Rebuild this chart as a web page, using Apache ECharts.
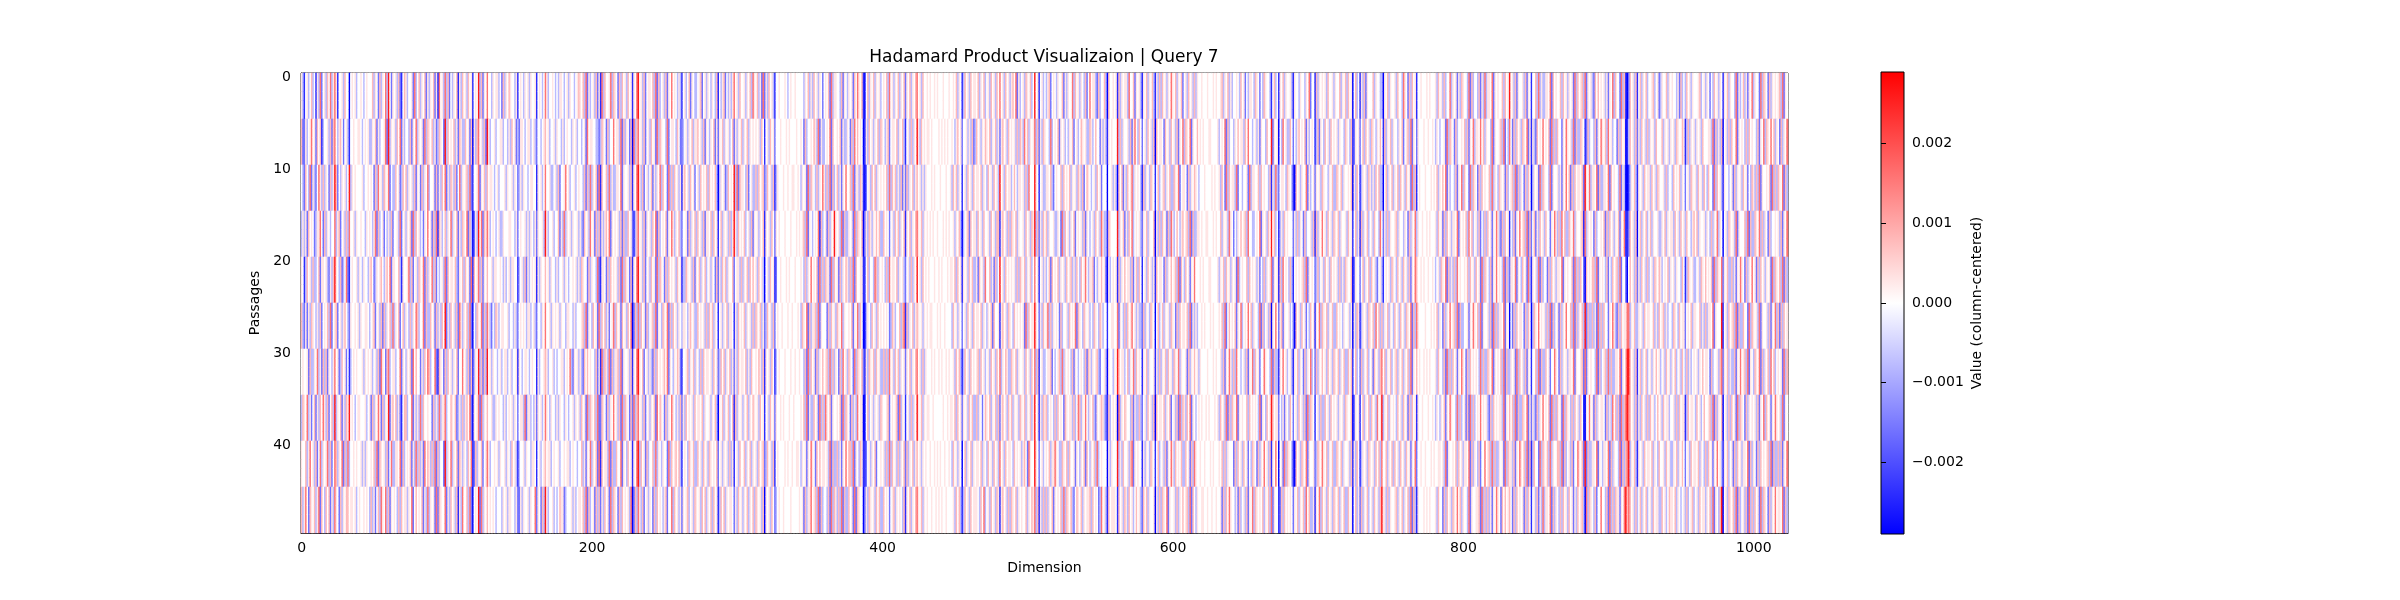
<!DOCTYPE html>
<html>
<head>
<meta charset="utf-8">
<title>Hadamard Product Visualizaion</title>
<script src="https://cdn.jsdelivr.net/npm/echarts@6/dist/echarts.min.js"></script>
</head>
<body style="margin:0">
<div id="box" style="width: 2400px;height: 600px;"></div>
<script>
var chart = echarts.init(document.querySelector('#box'))

// heat levels, digit 0..8 -> value (blue .. white .. red)
var levels = [-0.0029, -0.0024, -0.0016, -0.0008, 0, 0.0003, 0.0008, 0.0016, 0.0026]

// each block = 64 dimensions, each line = a band of 5 passages
var block00 = [
  '53145346 34153724 53647357 51445364 40454534 45434544 46354263 54738425',
  '62253457 45264613 44536267 43564245 31445445 54345453 35462534 45728354',
  '43264372 53247536 35426358 62435453 48354544 44534454 54263745 36547243',
  '35352645 42355742 63543447 35624536 37445354 45443545 43572634 52435362',
  '54136453 63346255 45325368 54362347 21454453 54354435 64235456 43564725',
  '63252536 54353624 54637245 62453564 32544545 35445543 45624536 26354637',
  '45445263 35473526 36254357 45236452 41345454 44535454 53453627 54267345',
  '36547352 46253647 53624638 35462536 58454345 54445345 26354752 63548256',
  '54463574 53624735 45736247 63547263 73445454 45353544 54637265 45362473',
  '63574265 46357264 36462537 54263546 64554534 54454543 63524637 54736254'
]
var block01 = [
  '45362146 53445273 46354625 35462517 45373624 35461536 45364514 54836254',
  '53647253 44362547 35452736 54635236 54283645 46352653 36452605 36745362',
  '36452364 63545362 54263547 34452625 36472536 53624735 45637214 45725463',
  '44537245 35462736 45342547 45263716 53463547 35462536 54726302 53847265',
  '54463154 45736245 36547263 54736243 45372645 54632546 36452716 45736254',
  '35462463 54363547 63447263 36452635 36482536 45362753 54637204 36547263',
  '53447254 35462746 44253647 63447216 54263645 35462447 45362613 54836263',
  '46352146 63447253 53736445 44263537 35573446 54623536 35647205 45727354',
  '35547263 45462537 36352746 53637263 44283547 35462653 54364712 63546245',
  '54363645 53547246 45462537 35452726 54472536 45361537 44637204 54827354'
]
var block02 = [
  '74435455 34263546 54435145 43545354 45145434 75344543 43554345 35443456',
  '85344534 45534435 36452325 54345534 53244345 64534453 54435345 44354534',
  '64554345 34445354 45354235 35443455 44154534 74453345 36244574 53445345',
  '75345434 53354445 54435245 44535354 35254453 85344534 46253735 45354453',
  '64453554 45435345 35544134 53625345 45153544 64535443 53445354 34454535',
  '75324365 34554453 44353245 45435534 53244354 74453545 45354435 54435344',
  '84535443 45345534 53445154 34554345 44153445 65344534 34455345 47325453',
  '64453354 54435345 45354245 53725534 35254534 75435443 53544354 34453545',
  '75344545 35445354 36453134 45354435 54145345 64553454 45344545 53454434',
  '64545434 44354535 54435225 35445354 47254263 85344534 34655234 44535345'
]
var block03 = [
  '54637253 45362517 36445736 54263645 36451547 84536245 54637263 45362547',
  '43452745 54433236 54263447 45537263 54260736 74536245 36452736 54437245',
  '44362637 35462716 44637353 35547254 45361547 85362453 46253547 36442736',
  '53264537 45263625 35647254 54536263 36452136 74536254 53647263 45462547',
  '36544263 54437215 54263645 45362736 54261547 84536245 36452736 54263645',
  '45637254 36452736 46352457 36452645 36470263 73645263 45637254 36547263',
  '53264645 44362517 36537263 55637254 45361547 85462453 53263645 45647254',
  '36452736 54637226 54263547 45362736 54262736 74536245 35462746 54263547',
  '46352547 35462716 45537263 36447254 36451547 83645263 44637354 35442736',
  '54637263 45263625 36452736 54263645 45370263 75362453 54263645 43562447'
]
var block04 = [
  '45435314 53462543 34562453 54354361 43562435 35745364 45354637 54635272',
  '54364223 45354635 56453625 43546252 54635453 46253546 35463545 45453641',
  '36453515 64536452 45364546 36454630 35452364 54837265 54362453 36364562',
  '53546324 45263546 36453625 54636451 46354536 35853645 46345362 54535461',
  '45364513 36545362 54635463 45354262 53646354 46245536 35463646 45364530',
  '64535435 54356453 36454536 36463541 45354635 54153645 46354536 36546352',
  '35465214 45635463 54363645 54536452 36463546 35253645 54635364 45465361',
  '54353625 36454536 45546354 45354630 54635463 46163545 35463546 54536451',
  '45646314 54365463 36453645 36545462 45354536 35145364 46354635 45364562',
  '36453525 45634536 54536463 54636451 36463545 54253645 35463546 36545360'
]
var block05 = [
  '53645314 45444543 45445444 44354635 36453542 45462735 54436254 35452647',
  '45364524 44544454 54444544 54263445 46537253 34547264 45462533 54263746',
  '36453613 54445445 44554454 35452736 54363547 53637263 46352547 44637255',
  '54536425 45444544 45444545 45637254 34547163 45263548 54537263 35452736',
  '45364512 44544454 54445444 54363547 45462736 36552736 45263546 53637264',
  '36453624 54454445 44544454 36547263 55637254 44263645 36547354 45462547',
  '54536413 45444544 45445445 44362736 45263546 45637363 54263745 36542736',
  '45364525 44545444 54454444 54637253 36452736 37546254 45462736 54263537',
  '36453614 54444545 44544554 35452547 54264645 54537263 36352547 46637254',
  '54536423 45445444 45444445 45263557 45637263 44362736 53637263 36452726'
]
var block06 = [
  '54610463 54635453 45463745 35463546 25463546 74536445 45445454 44544454',
  '45401536 45354636 54356245 54635463 14536354 85364545 54544445 45454544',
  '36510245 36463545 45463736 46353625 26354635 64535354 44545444 54445445',
  '54602536 53546463 36454245 36463546 15463546 75463545 45454454 44545454',
  '45511463 44376354 54363745 54635453 24536354 84536454 54445445 45444545',
  '36400354 36453645 45454236 53446367 16354635 65453545 45544454 54454444',
  '54621536 54636453 36363745 36463545 25463546 74536354 44545445 45445454',
  '45500463 45354536 54456245 45627354 14536354 85463545 54454444 44544545',
  '36511245 35462445 45363736 45363546 26354635 64535454 45445454 54454454',
  '54402536 54536463 36454245 63545436 15463546 75463545 44544545 45445444'
]
var block07 = [
  '45463541 36453645 54635463 45364536 47453645 35647253 45365463 48451453',
  '54356452 44535362 36453546 54635463 52564536 45453636 53746354 57362536',
  '36463541 45364536 45546354 36453645 38453645 53464355 45363744 48541453',
  '45354630 34562645 53645364 45364536 61564536 36546354 45364536 58362536',
  '54636451 54536463 35264537 44635263 48453645 45453636 54635463 47451453',
  '36453542 45364536 45546354 35462644 51564536 54364545 45273645 58542536',
  '45364631 36453645 45636453 45364536 47354653 36546354 45364536 47361453',
  '54636452 54536463 36354246 54635463 62564536 46354536 54635463 58451536',
  '36453540 46354635 45546354 36453645 37453645 54364545 35642754 48542453',
  '45364631 36453645 55436473 45364536 51564536 36546354 54463546 57361536'
]
var block08 = [
  '43562454 35446253 54473645 35436247 45532634 46306445 45163545 53744625',
  '54437345 46254534 35462453 46545336 53464425 35315454 44836354 45362574',
  '35546324 54463645 46354536 53624654 34536452 44404453 53064625 36457354',
  '46354453 35427364 53546245 45362543 45364537 53316544 44835462 53647345',
  '53462645 46354536 45635364 36457435 56243546 45205345 45163546 45536246',
  '45736354 54263445 36454726 54365453 43654365 34414455 44725436 36457453',
  '34556243 45637354 54362543 45436265 35456324 45305443 54864553 46354736',
  '56345436 36454265 45536347 63547435 46325456 53216345 45073546 54436253',
  '45463557 54336546 36445254 35462643 54637345 44405354 44835364 45367254',
  '36354625 45463736 54632465 46354556 36454237 45316455 54164536 53645346'
]
var block09 = [
  '45315463 54631536 36453547 54635462 45364536 35445444 54445454 45635463',
  '36424536 45360645 54264536 45362547 36547254 46454544 45544445 34547263',
  '54316354 36541463 45635463 36547245 54263546 54344454 44454544 53642736',
  '45325463 54460536 36452637 53464356 45637263 35545445 54445454 46354537',
  '36414536 45351645 54263546 45637264 36452547 44454544 45544445 35463645',
  '53326354 36540463 46354536 54263645 54637253 53445454 44545444 54637246',
  '45415463 54451536 35463645 36547354 45263546 45354444 54445454 45362547',
  '36324536 45360645 54635462 45362736 53647254 34545445 45444545 36453726',
  '54415354 36541463 45362547 53645463 36452637 54454454 44545444 54636354',
  '45326463 54450536 36547254 45363546 45637264 35445544 54454454 45263647'
]
var block10 = [
  '53445436 45243554 36542436 54431463 41546354 45315443 54435472 44163545',
  '44354645 53647443 45352544 36448254 50437453 36424356 45462534 54136254',
  '45537244 34452735 54463645 44361537 32455436 54310645 35447253 45254536',
  '54243546 45637443 34547254 53648463 41353645 44425363 54263445 36163547',
  '35452734 54463645 45352436 35457254 51637454 36314545 45637254 54236345',
  '45462547 34547463 54437263 45360547 42562544 53420645 36452436 45154736',
  '53637443 45362547 36452447 54437263 31547453 45315463 54263547 34263546',
  '36547254 54463645 45437254 36458645 52435254 36424536 45362736 54145363',
  '44263645 36452436 54263547 45361547 40452736 54310645 36547254 45236547',
  '54435263 45362547 36545463 54637254 41263645 45425463 54637463 35154736'
]
var block11 = [
  '45364453 54463546 36450463 41536254 44635443 30546354 45364437 54263645',
  '36453645 45354436 54361254 52463645 36543546 41635463 54435462 45637254',
  '54435463 36546354 45460536 41354536 53536463 30463546 35463645 36452736',
  '45364536 54635445 36451463 51635463 45364437 42536354 45635443 54263547',
  '36453645 45363536 54460254 42463546 36453245 31454536 54364536 45362547',
  '54635463 36454354 45350536 51354536 54637463 63546354 36453645 36547263',
  '45364536 54635463 36461463 42635463 45264536 74635463 45635463 54637254',
  '36453645 45354536 54460254 51463546 36453745 83546354 54364536 45263645',
  '54635463 36546354 45361536 41354536 54536463 74463546 36453645 36452547',
  '45364536 54635463 36450463 52635463 45364536 85536354 45635463 54637263'
]
var block12 = [
  '14454445 45444536 45363447 35452536 54437263 44362537 35547254 54463645',
  '25444544 54454354 34452736 54263445 46362547 35547463 54437254 45637243',
  '14544454 44545463 54647253 44362547 36442736 54263645 44637354 36545263',
  '35445445 45444536 45263645 35547254 54637463 45362436 36452547 53263645',
  '64454544 54454345 36547263 53637454 45463645 36452736 54362547 45437263',
  '75444454 44545463 54263547 45637263 34452547 54637254 45362736 35547254',
  '64544545 45444536 44362736 36452547 54263645 45437363 36547254 54637263',
  '15445444 54454354 35462547 54437363 45262736 34547454 53263645 45537254',
  '24454454 44545445 54537254 45463645 35547263 54362447 45637363 35452736',
  '15444545 45444536 44263645 36547463 54437254 45562736 36352547 54264645'
]
var block13 = [
  '84536254 45362541 44637353 35547264 54463645 35452736 45637254 53264645',
  '74263645 36547251 53264547 45462736 36442547 54537263 36541263 44362547',
  '45637263 54263640 35452736 54437254 45352547 46263645 54628547 35547263',
  '14362547 45637262 46253645 36442547 53637463 36547354 45617354 54263445',
  '25547254 36452731 54537263 44263645 35547254 54462736 36420645 46637254',
  '04263645 54263640 36547454 53637263 45263547 44637263 54638263 36352736',
  '35452736 45362541 44637263 36452447 54263545 35547254 45627254 54437263',
  '64637263 36547252 53263547 45462736 36452736 54363645 36410547 45263545',
  '55362547 54637261 36442736 54637354 46637263 45362447 54628263 35547254',
  '64263645 45263641 45362537 35547263 54363645 36452536 45630736 54362447'
]
var block14 = [
  '45352547 36442736 10264536 14635463 44563452 35446354 54435263 43645354',
  '54637453 44263645 01364536 25364536 35453644 46354535 45365446 51363545',
  '35547264 54437253 00135463 15453645 53645365 44536344 36454635 42453654',
  '46263645 35462547 11264536 04635463 46354453 35463545 53645364 53644356',
  '54362436 45637244 20464536 25364536 34536546 53454635 45354436 41365453',
  '36442547 53263645 57735463 35453645 54463536 45635344 36543645 52454635',
  '45637363 35547254 68864536 14635463 45354645 34536453 54634536 43635345',
  '54263537 46362736 78764536 25364536 36453464 53645534 45363645 51364554',
  '35547263 54437263 67835463 15453645 54635436 44536453 35463546 42453645',
  '44362736 36552547 86764536 34635463 45364553 36453465 54635434 53634563'
]
var block15 = [
  '44563453 54243645 35415463 54437253 46352547 35442736 54263545 45637254',
  '35453644 45537263 53604536 36447254 54363645 44362547 36547463 54263547',
  '53645364 36442736 45315443 45263545 36452436 53637254 45462736 36547263',
  '46354453 54363547 35404536 54537254 44637263 36547363 54263445 45362547',
  '34536546 45462736 54725463 36352547 54263547 45263645 35452736 54637263',
  '54463536 35547254 44814536 45637263 36442736 54537254 45362547 36263645',
  '45354645 54263445 36725463 53362547 45637254 36547263 54637463 45452736',
  '36453464 45637263 54604536 36452736 54263545 45362547 36452547 54537254',
  '54635436 36452547 45315463 45263645 35547263 54263645 45637263 36362547',
  '45364553 54637254 36804536 54637263 45362736 36452736 54263547 45547263'
]

var blocks = [block00, block01, block02, block03, block04, block05, block06, block07,
  block08, block09, block10, block11, block12, block13, block14, block15]

var xTicks = [0, 200, 400, 600, 800, 1000]
var yTicks = [0, 10, 20, 30, 40]
var cbarTicks = [-0.002, -0.001, 0, 0.001, 0.002]
var vmin = -0.0029, vmax = 0.0029

var nDims = 1024, nPassages = 50, rowsPerBand = 5
var dimCats = [], passageCats = []
for (var i = 0; i < nDims; i++) dimCats.push(String(i))
for (var i = 0; i < nPassages; i++) passageCats.push(String(i))

var cells = []
blocks.forEach(function (block, j) {
  block.forEach(function (line, b) {
    var s = line.replace(/\s+/g, '')
    for (var k = 0; k < 64; k++) {
      var v = levels[+(s[k] || 4)]
      for (var r = 0; r < rowsPerBand; r++) {
        cells.push([j * 64 + k, b * rowsPerBand + r, v])
      }
    }
  })
})

var font = 'DejaVu Sans'
var txt = { color: '#000', fontFamily: font, fontSize: 14 }
function minus(v) {
  return (v < 0 ? '\u2212' : '') + Math.abs(v).toFixed(3)
}

var option = {
  animation: false,
  backgroundColor: '#fff',
  graphic: [{
    type: 'text', x: 1044, y: 58,
    style: {
      text: 'Hadamard Product Visualizaion | Query 7',
      font: '17px "DejaVu Sans"', fill: '#000',
      align: 'center', verticalAlign: 'middle',
      textAlign: 'center', textVerticalAlign: 'middle'
    }
  }],
  grid: [
    { left: 301, top: 73, width: 1487, height: 460, show: true,
      borderColor: '#000', borderWidth: 1, backgroundColor: 'transparent' },
    // colorbar
    { left: 1881, top: 72, width: 23, height: 462, show: true,
      borderColor: '#000', borderWidth: 1,
      backgroundColor: { type: 'linear', x: 0, y: 0, x2: 0, y2: 1,
        colorStops: [{ offset: 0, color: '#ff0000' }, { offset: 0.5, color: '#ffffff' }, { offset: 1, color: '#0000ff' }] } }
  ],
  xAxis: [
    {
      type: 'category', gridIndex: 0, data: dimCats, boundaryGap: true,
      axisLine: { lineStyle: { color: '#000', width: 1 } },
      axisTick: { alignWithLabel: true, length: 5, lineStyle: { color: '#000' },
        interval: function (i) { return xTicks.indexOf(i) >= 0 } },
      axisLabel: Object.assign({ margin: 8,
        interval: function (i) { return xTicks.indexOf(i) >= 0 } }, txt),
      splitLine: { show: false },
      name: 'Dimension', nameLocation: 'middle', nameGap: 28, nameTextStyle: txt
    },
    { type: 'value', gridIndex: 1, show: false, min: 0, max: 1 }
  ],
  yAxis: [
    {
      type: 'category', gridIndex: 0, data: passageCats, inverse: true, boundaryGap: true,
      axisLine: { lineStyle: { color: '#000', width: 1 } },
      axisTick: { alignWithLabel: true, length: 5, lineStyle: { color: '#000' },
        interval: function (i) { return yTicks.indexOf(i) >= 0 } },
      axisLabel: Object.assign({ margin: 10,
        interval: function (i) { return yTicks.indexOf(i) >= 0 } }, txt),
      splitLine: { show: false },
      name: 'Passages', nameLocation: 'middle', nameGap: 34, nameRotate: 90, nameTextStyle: txt
    },
    {
      type: 'value', gridIndex: 1, position: 'right', min: vmin, max: vmax,
      axisLine: { show: false },
      axisTick: { show: true, length: 5, lineStyle: { color: '#000' }, customValues: cbarTicks },
      axisLabel: Object.assign({ margin: 8, customValues: cbarTicks, formatter: minus }, txt),
      splitLine: { show: false },
      name: 'Value (column-centered)', nameLocation: 'middle', nameGap: 66, nameRotate: 90,
      nameTextStyle: txt
    }
  ],
  visualMap: {
    type: 'continuous', show: false, seriesIndex: 0, min: vmin, max: vmax,
    inRange: { color: ['#0000ff', '#ffffff', '#ff0000'] }
  },
  series: [
    { type: 'heatmap', xAxisIndex: 0, yAxisIndex: 0, data: cells, progressive: 0,
      emphasis: { disabled: true } },
    { type: 'line', xAxisIndex: 1, yAxisIndex: 1, data: [] }
  ]
}
chart.setOption(option)
</script>
</body>
</html>
